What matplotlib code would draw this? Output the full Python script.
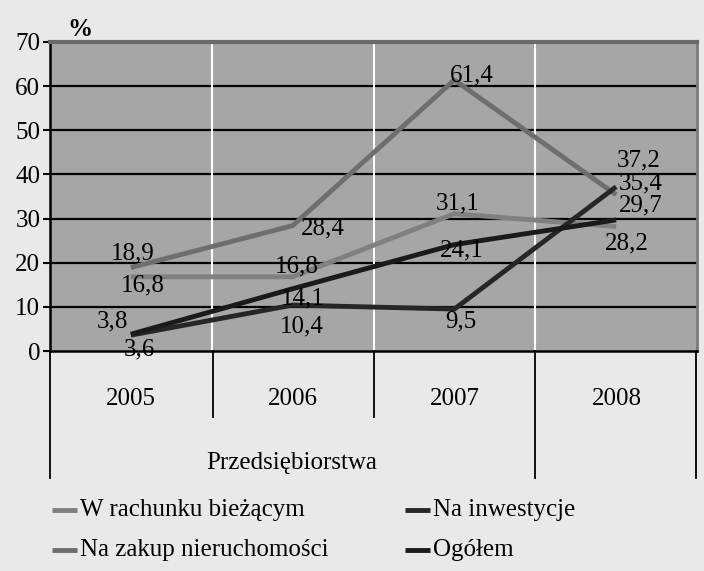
import matplotlib.pyplot as plt
from matplotlib.lines import Line2D

plt.rcParams['font.family'] = ['Liberation Serif', 'DejaVu Serif']

years = ['2005', '2006', '2007', '2008']
group_label = 'Przedsiębiorstwa'
series_names = ['W rachunku bieżącym', 'Na zakup nieruchomości', 'Na inwestycje', 'Ogółem']
w_rachunku = [16.8, 16.8, 31.1, 28.2]
na_zakup = [18.9, 28.4, 61.4, 35.4]
na_inwestycje = [3.6, 10.4, 9.5, 37.2]
ogolem = [3.8, 14.1, 24.1, 29.7]
yticks = [0, 10, 20, 30, 40, 50, 60, 70]

colors = ['#808080', '#6e6e6e', '#262626', '#1a1a1a']
# label offsets in pixels (dx, dy) for each point
offsets = [
    [(12, -9), (4, 10), (3, 10), (11, -17)],
    [(2, 14), (30, -3), (17, 5), (25, 11)],
    [(9, -14), (9, -21), (7, -12), (23, 26)],
    [(-18, 13), (10, -10), (7, -6), (25, 14)],
]

W, H = 704, 571
fig = plt.figure(figsize=(W / 100, H / 100), dpi=100, facecolor='#e9e9e9')
ax = fig.add_axes([50 / W, 1 - 351 / H, 647 / W, 309 / H])
ax.set_facecolor('#a6a6a6')

x = range(len(years))
data = [w_rachunku, na_zakup, na_inwestycje, ogolem]
for vals, c, offs in zip(data, colors, offsets):
    ax.plot(x, vals, color=c, linewidth=3.5, solid_capstyle='butt', zorder=3)
    for xi, v, (dx, dy) in zip(x, vals, offs):
        ax.annotate(f'{v:.1f}'.replace('.', ','), (xi, v), xytext=(dx, dy),
                    textcoords='offset pixels', ha='center', va='center',
                    fontsize=18, color='black', zorder=4)

ax.set_xlim(-0.5, 3.5)
ax.set_ylim(0, 70)
ax.set_yticks(yticks)
ax.set_yticklabels([str(t) for t in yticks], fontsize=18)
ax.set_xticks([])
for yv in yticks[1:-1]:
    ax.axhline(yv, color='black', linewidth=1.6, zorder=1)
for xv in [0.5, 1.5, 2.5]:
    ax.axvline(xv, color='white', linewidth=1.5, zorder=1)
ax.tick_params(axis='y', length=5, width=1.5, pad=2)
ax.spines['left'].set_linewidth(1.8)
ax.spines['bottom'].set_linewidth(1.8)
ax.spines['top'].set_color('#6a6a6a')
ax.spines['top'].set_linewidth(3)
ax.spines['right'].set_color('#7a7a7a')
ax.spines['right'].set_linewidth(2)

fig.text(80 / W, 1 - 30 / H, '%', fontsize=18, fontweight='bold', ha='center', va='center')

# category axis below the plot
for px, bottom in [(50, 478), (213, 417), (374, 417), (535, 478), (696, 478)]:
    fig.add_artist(Line2D([px / W, px / W], [1 - 351 / H, 1 - bottom / H],
                          color='black', linewidth=1.3))
for i, yr in enumerate(years):
    fig.text((131 + 162 * i) / W, 1 - 399 / H, yr, fontsize=18, ha='center', va='center')
fig.text(292 / W, 1 - 463 / H, group_label, fontsize=18, ha='center', va='center')

# legend
leg_pos = [(52, 510), (52, 550), (405, 510), (405, 550)]
for name, c, (px, py) in zip(series_names, colors, leg_pos):
    fig.add_artist(Line2D([px / W, (px + 25) / W], [1 - py / H, 1 - py / H],
                          color=c, linewidth=3.5, solid_capstyle='butt'))
    fig.text((px + 28) / W, 1 - py / H, name, fontsize=18, ha='left', va='center')

fig.savefig('out.png', dpi=100, facecolor=fig.get_facecolor())
